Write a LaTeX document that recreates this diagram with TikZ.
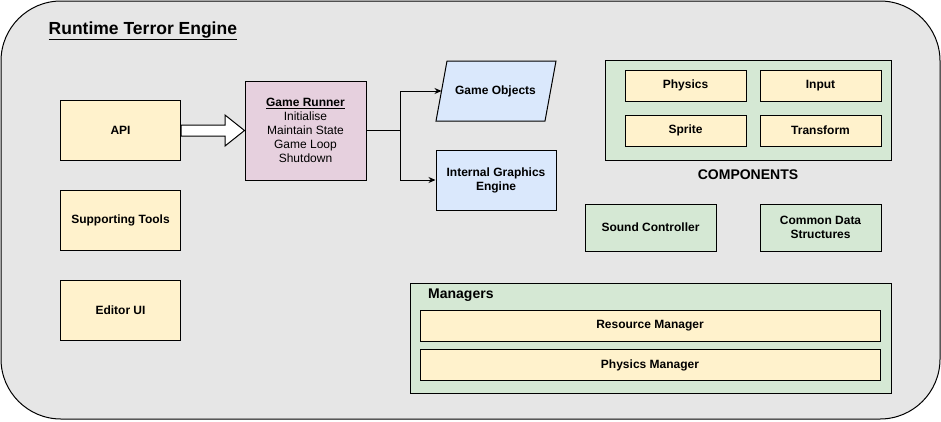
\documentclass[tikz,border=0pt]{standalone}
\usepackage{fontspec}
\setmainfont{Liberation Sans}
\usetikzlibrary{arrows.meta}
\definecolor{bgc}{HTML}{E6E6E6}
\definecolor{yel}{HTML}{FFF2CC}
\definecolor{pnk}{HTML}{E6D0DE}
\definecolor{blu}{HTML}{DAE8FC}
\definecolor{grn}{HTML}{D5E8D4}
\tikzset{
  box/.style={draw=black, line width=1pt, inner sep=0pt, align=center,
    font=\bfseries\fontsize{12}{14}\selectfont},
  yelbox/.style={box, fill=yel},
  grnbox/.style={box, fill=grn},
  blubox/.style={box, fill=blu},
  conn/.style={draw=black, line width=1pt, -{Stealth[length=7pt,width=6pt]}}
}
\begin{document}
\begin{tikzpicture}[x=1pt,y=-1pt]
\useasboundingbox (0,0) rectangle (941,421);
% outer container
\draw[line width=1pt, fill=bgc, rounded corners=60pt] (1,1) rectangle (940,419);
\node[anchor=west, inner sep=0pt, font=\bfseries\fontsize{17.5}{20}\selectfont] (title) at (48.5,31) {\underline{Runtime Terror Engine}};

% left column
\node[yelbox, minimum width=120pt, minimum height=60pt] (api) at (120.5,130) {API};
\node[yelbox, minimum width=120pt, minimum height=60pt] (tools) at (120.5,220) {Supporting Tools};
\node[yelbox, minimum width=120pt, minimum height=60pt] (editor) at (120.5,310) {Editor UI};

% game runner
\node[box, fill=pnk, minimum width=121pt, minimum height=99pt] (runner) at (305.5,130.5)
  {\underline{Game Runner}\\\mdseries Initialise\\\mdseries Maintain State\\\mdseries Game Loop\\\mdseries Shutdown};

% block arrow API -> runner
\draw[line width=1pt, fill=white] (api.east |- 0,125) -- (225,125) -- (225,115) -- (runner.west) -- (225,146) -- (225,136) -- (api.east |- 0,136) -- cycle;

% game objects parallelogram
\draw[line width=1pt, fill=blu] (447,61) -- (556,61) -- (545,121) -- (436,121) -- cycle;
\node[inner sep=0pt, font=\bfseries\fontsize{12}{14}\selectfont] (gobj) at (495.5,91) {Game Objects};
\coordinate (gobjin) at (441.5,91);

% internal graphics engine
\node[blubox, minimum width=120pt, minimum height=60pt] (ige) at (496,180) {Internal Graphics\\Engine};

% connectors
\coordinate (split) at (400,130.5);
\draw[line width=1pt] (runner.east) -- (split);
\draw[conn] (split) |- (gobjin);
\draw[conn] (split) |- (ige.west);

% components
\node[grnbox, minimum width=286pt, minimum height=100pt] (comps) at (748,110) {};
\node[yelbox, minimum width=121pt, minimum height=31pt] (phys) at (685.5,85.5) {Physics};
\node[yelbox, minimum width=121pt, minimum height=31pt] (input) at (820.5,85.5) {Input};
\node[yelbox, minimum width=121pt, minimum height=31pt] (sprite) at (685.5,130.5) {Sprite};
\node[yelbox, minimum width=121pt, minimum height=31pt] (transform) at (820.5,130.5) {Transform};
\node[inner sep=0pt, font=\bfseries\fontsize{14}{16}\selectfont] (complabel) at (748,175) {COMPONENTS};

\node[grnbox, minimum width=131pt, minimum height=47pt] (sound) at (650.5,227.5) {Sound Controller};
\node[grnbox, minimum width=121pt, minimum height=47pt] (cds) at (820.5,227.5) {Common Data\\Structures};

% managers
\node[grnbox, minimum width=481pt, minimum height=110pt] (mgrs) at (650.5,338) {};
\node[anchor=west, inner sep=0pt, font=\bfseries\fontsize{14}{16}\selectfont] (mgrlabel) at (428,295.5) {Managers};
\node[yelbox, minimum width=460pt, minimum height=31pt] (resmgr) at (650,325.5) {Resource Manager};
\node[yelbox, minimum width=460pt, minimum height=31pt] (physmgr) at (650,365.3) {Physics Manager};
\end{tikzpicture}
\end{document}
